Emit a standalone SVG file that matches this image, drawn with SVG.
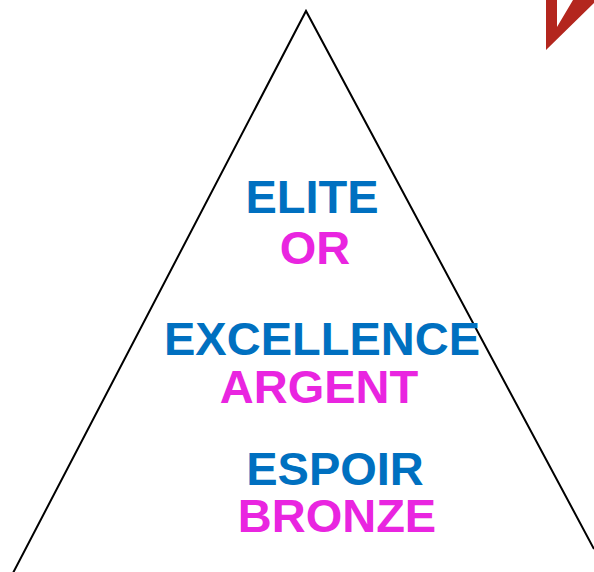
<svg xmlns="http://www.w3.org/2000/svg" width="594" height="572" viewBox="0 0 594 572">
<style>
text{font-family:"Liberation Sans",Arial,sans-serif;font-weight:bold;font-size:47px;text-anchor:middle}
.b{fill:#0070C0}
.m{fill:#E925E0}
</style>
<rect width="594" height="572" fill="#FFFFFF"/>
<g id="triangle">
<polyline points="13,573 306,11 594,549" fill="none" stroke="#000000" stroke-width="2"/>
</g>
<g id="mark">
<polygon points="546,0 557,0 557,27 573,0 594,0 594,3 546,50" fill="#B3261E"/>
</g>
<g id="labels">
<text class="b" x="312" y="212.5" font-size="46">ELITE</text>
<text class="m" x="315" y="264">OR</text>
<text class="b" x="322" y="355">EXCELLENCE</text>
<text class="m" x="319" y="402.5">ARGENT</text>
<text class="b" x="335" y="485">ESPOIR</text>
<text class="m" x="337" y="531.5">BRONZE</text>
</g>
</svg>
